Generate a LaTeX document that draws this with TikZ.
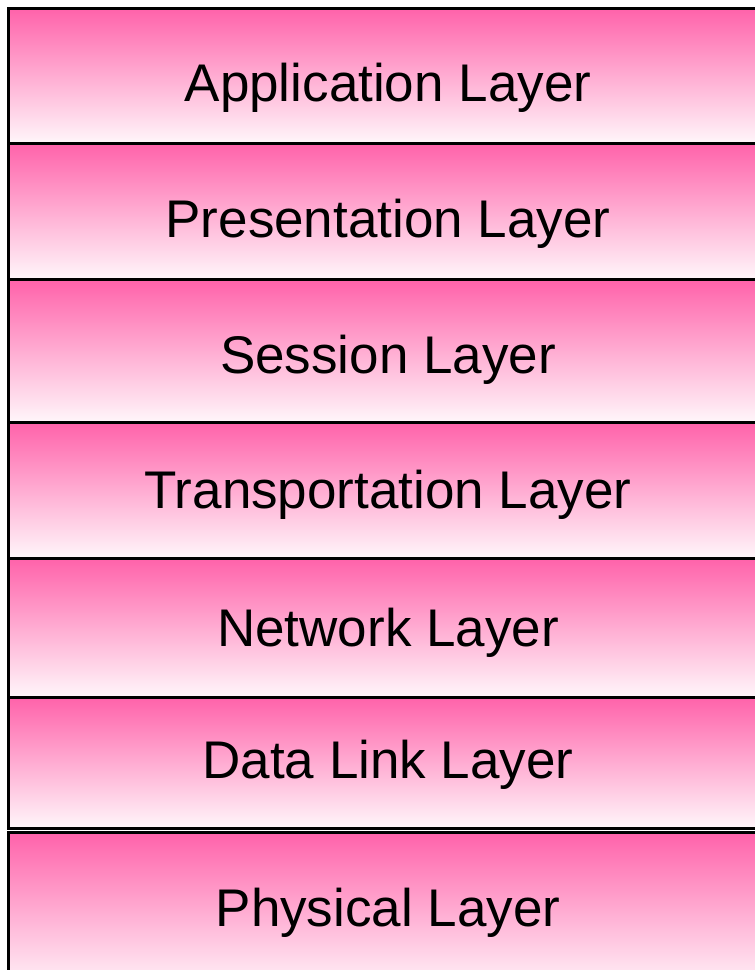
\documentclass[tikz,border=0pt]{standalone}
\usepackage{fontspec}
\setmainfont{Liberation Sans}
\definecolor{layertop}{RGB}{255,98,170}
\definecolor{layerbottom}{RGB}{255,246,250}
\tikzset{
  layerbox/.style={top color=layertop, bottom color=layerbottom, draw=black, line width=3pt},
  layertext/.style={anchor=base, inner sep=0pt, font=\fontsize{53}{60}\selectfont}
}
\begin{document}
\begin{tikzpicture}[x=1pt,y=-1pt]
\useasboundingbox (0,0) rectangle (755,970);
% stacked layer boxes (top edge, bottom edge)
\foreach \t/\b in {8/143, 143/279, 279/422, 422/558, 558/697, 697/828, 832/990}{
  \path[layerbox] (8.5,\t) rectangle (775,\b);
}
\node[layertext] (app)  at (388,101) {Application Layer};
\node[layertext] (pres) at (388,237) {Presentation Layer};
\node[layertext] (sess) at (388,373) {Session Layer};
\node[layertext] (trans) at (388,508) {Transportation Layer};
\node[layertext] (net)  at (388,646) {Network Layer};
\node[layertext] (dll)  at (388,778) {Data Link Layer};
\node[layertext] (phys) at (388,926) {Physical Layer};
\end{tikzpicture}
\end{document}
